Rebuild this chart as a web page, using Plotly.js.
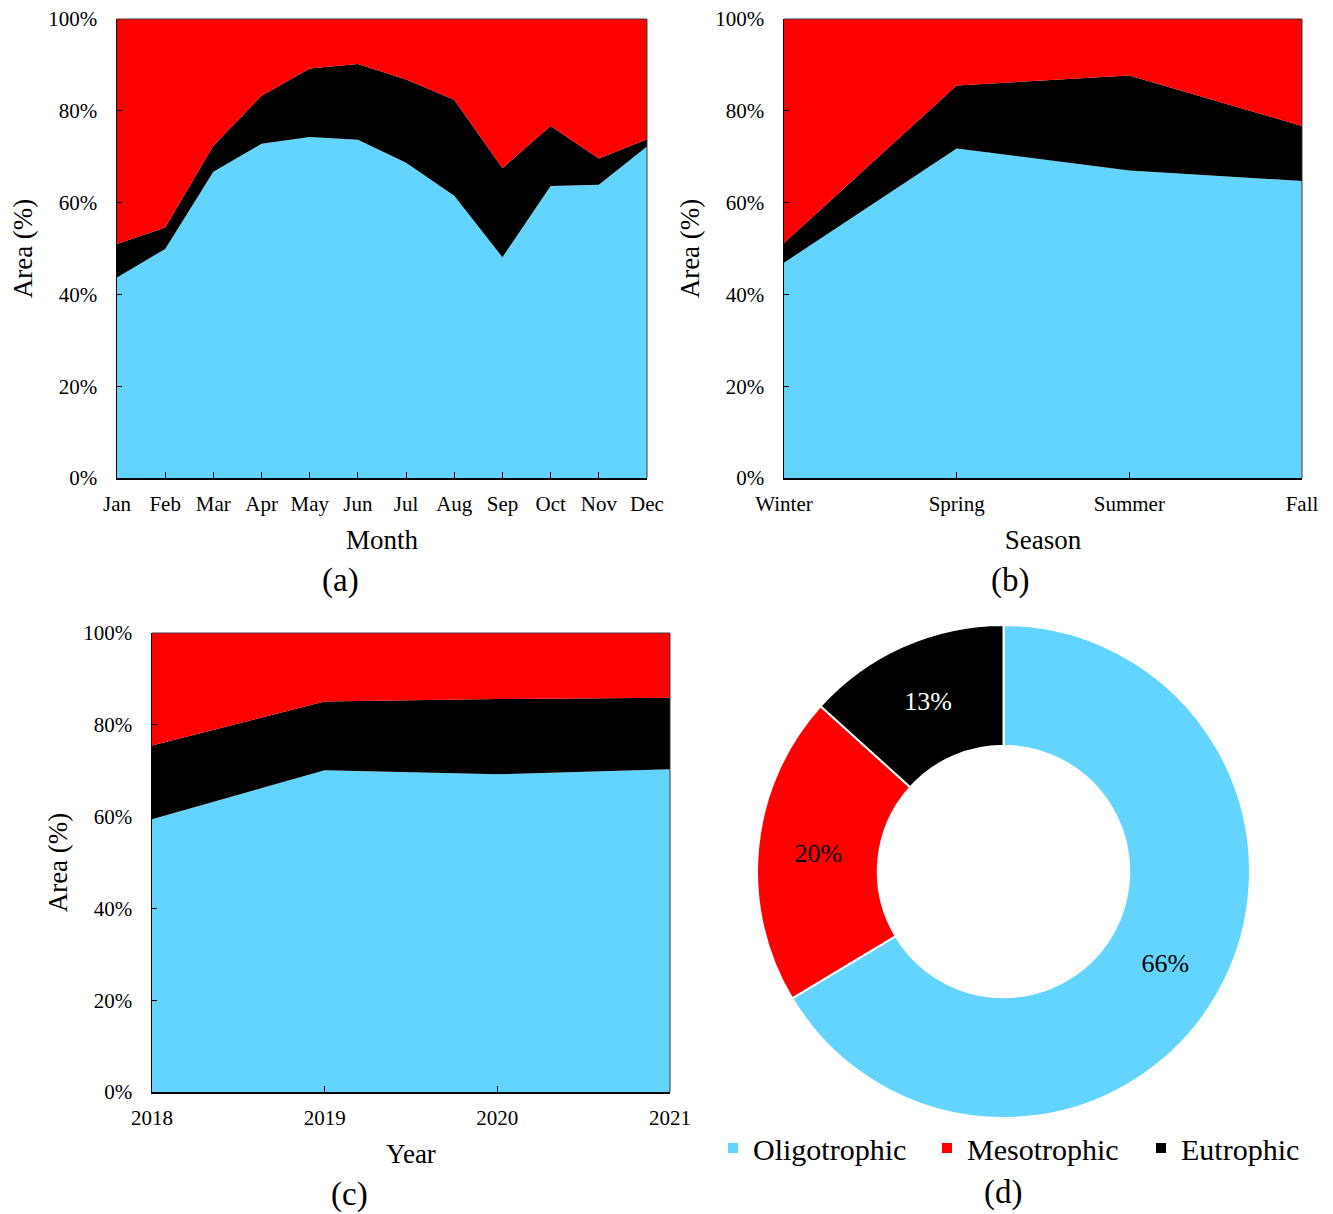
<!DOCTYPE html>
<html>
<head>
<meta charset="utf-8">
<script src="https://cdn.plot.ly/plotly-3.0.1.min.js"></script>
<style>
  html, body { margin: 0; padding: 0; background: #fff; }
  #chart { width: 1333px; height: 1214px; }
</style>
</head>
<body>
<div id="chart"></div>
<script>
// Trophic state area shares (%), stacked: oligotrophic, eutrophic, mesotrophic
const months = ['Jan', 'Feb', 'Mar', 'Apr', 'May', 'Jun', 'Jul', 'Aug', 'Sep', 'Oct', 'Nov', 'Dec'];
const monthOligo = [43.7, 49.9, 66.7, 72.8, 74.3, 73.7, 68.7, 61.5, 48.1, 63.6, 63.9, 72.2];
const monthEutro = [7.3, 4.7, 5.7, 10.5, 14.9, 16.5, 18.1, 20.9, 19.4, 13.1, 5.7, 1.6];
const monthMeso = [49.0, 45.4, 27.6, 16.7, 10.8, 9.8, 13.2, 17.6, 32.5, 23.3, 30.4, 26.2];

const seasons = ['Winter', 'Spring', 'Summer', 'Fall'];
const seasonOligo = [46.9, 71.8, 67.0, 64.7];
const seasonEutro = [4.3, 13.7, 20.7, 12.0];
const seasonMeso = [48.8, 14.5, 12.3, 23.3];

const years = ['2018', '2019', '2020', '2021'];
const yearOligo = [59.4, 70.1, 69.2, 70.3];
const yearEutro = [16.1, 15.0, 16.4, 15.6];
const yearMeso = [24.5, 14.9, 14.4, 14.1];

// Overall share for the donut
const classNames = ['Oligotrophic', 'Mesotrophic', 'Eutrophic'];
const overallShare = [66.4, 20.3, 13.3];

const yTicks = [0, 20, 40, 60, 80, 100];

const COLORS = { Oligotrophic: '#62D4FE', Mesotrophic: '#FF0000', Eutrophic: '#000000' };
const FONT = 'Liberation Serif, Times New Roman, serif';

const W = 1333, H = 1214;
const px = v => v / W;
const py = v => 1 - v / H;

function stack(xs, oligo, eutro, meso, xa, ya) {
  const base = { x: xs, mode: 'none', stackgroup: 's' + xa, xaxis: xa, yaxis: ya, showlegend: false, hoverinfo: 'skip' };
  return [
    Object.assign({}, base, { y: oligo, name: 'Oligotrophic', fillcolor: COLORS.Oligotrophic }),
    Object.assign({}, base, { y: eutro, name: 'Eutrophic', fillcolor: COLORS.Eutrophic }),
    Object.assign({}, base, { y: meso, name: 'Mesotrophic', fillcolor: COLORS.Mesotrophic })
  ];
}

const traces = [
  ...stack(months, monthOligo, monthEutro, monthMeso, 'x', 'y'),
  ...stack(seasons, seasonOligo, seasonEutro, seasonMeso, 'x2', 'y2'),
  ...stack(years, yearOligo, yearEutro, yearMeso, 'x3', 'y3'),
  {
    type: 'pie',
    labels: classNames,
    values: overallShare,
    sort: false,
    direction: 'clockwise',
    rotation: 0,
    hole: 0.51,
    domain: { x: [px(757), px(1250)], y: [py(1118), py(625)] },
    marker: { colors: classNames.map(n => COLORS[n]), line: { color: '#ffffff', width: 2 } },
    texttemplate: '%{percent:.0%}',
    textposition: 'inside',
    insidetextorientation: 'horizontal',
    textfont: { family: FONT, size: 26, color: ['#000000', '#000000', '#ffffff'] },
    hoverinfo: 'skip'
  }
];

function xAxis(domain, n, title) {
  return {
    domain: domain, type: 'category', range: [0, n - 1],
    showline: true, linecolor: '#000', linewidth: 1.5,
    ticks: 'inside', ticklen: 6, tickcolor: '#000', tickwidth: 1,
    showgrid: false, zeroline: false, fixedrange: true,
    tickfont: { family: FONT, size: 21, color: '#000' },
    ticklabelstandoff: 6,
    title: { text: title, font: { family: FONT, size: 27, color: '#000' }, standoff: 15 },
    automargin: false
  };
}
function yAxis(domain) {
  return {
    domain: domain, range: [0, 100],
    tickvals: yTicks, ticktext: yTicks.map(v => v + '%'),
    showline: true, linecolor: '#000', linewidth: 1.5,
    ticks: 'inside', ticklen: 5, tickcolor: '#000', tickwidth: 1,
    showgrid: false, zeroline: false, fixedrange: true,
    tickfont: { family: FONT, size: 21, color: '#000' },
    ticklabelstandoff: 14,
    title: { text: 'Area (%)', font: { family: FONT, size: 27, color: '#000' }, standoff: 8 },
    automargin: false
  };
}

function border(xa, ya) {
  const xr = xa + ' domain', yr = ya + ' domain';
  return [
    { type: 'line', xref: xr, yref: yr, x0: 0, x1: 1, y0: 1, y1: 1, line: { color: '#3a3a3a', width: 1 }, layer: 'above' },
    { type: 'line', xref: xr, yref: yr, x0: 1, x1: 1, y0: 0, y1: 1, line: { color: '#3a3a3a', width: 1 }, layer: 'above' }
  ];
}

function panelLabel(text, x, y) {
  return { text: text, xref: 'paper', yref: 'paper', x: px(x), y: py(y), xanchor: 'center', yanchor: 'middle',
           showarrow: false, font: { family: FONT, size: 33, color: '#000' } };
}

const layout = {
  width: W, height: H,
  margin: { l: 0, r: 0, t: 0, b: 0, autoexpand: false },
  paper_bgcolor: '#fff', plot_bgcolor: '#fff',
  font: { family: FONT, color: '#000' },
  xaxis: xAxis([px(117), px(647)], months.length, 'Month'),
  yaxis: yAxis([py(478), py(19)]),
  xaxis2: Object.assign(xAxis([px(784), px(1302)], seasons.length, 'Season'), { anchor: 'y2' }),
  yaxis2: Object.assign(yAxis([py(478), py(19)]), { anchor: 'x2' }),
  xaxis3: Object.assign(xAxis([px(152), px(670)], years.length, 'Year'), { anchor: 'y3' }),
  yaxis3: Object.assign(yAxis([py(1092), py(633)]), { anchor: 'x3' }),
  showlegend: true,
  legend: {
    orientation: 'h', traceorder: 'normal',
    x: px(1034), xanchor: 'center', y: py(1148), yanchor: 'middle',
    font: { family: FONT, size: 30, color: '#000' },
    entrywidth: 169, entrywidthmode: 'pixels', bgcolor: 'rgba(0,0,0,0)'
  },
  shapes: [...border('x', 'y'), ...border('x2', 'y2'), ...border('x3', 'y3')],
  annotations: [
    panelLabel('(a)', 340, 580),
    panelLabel('(b)', 1010, 580),
    panelLabel('(c)', 349, 1194),
    panelLabel('(d)', 1003, 1192)
  ],
  hovermode: false
};

Plotly.newPlot('chart', traces, layout, { displayModeBar: false, staticPlot: true });
</script>
</body>
</html>
